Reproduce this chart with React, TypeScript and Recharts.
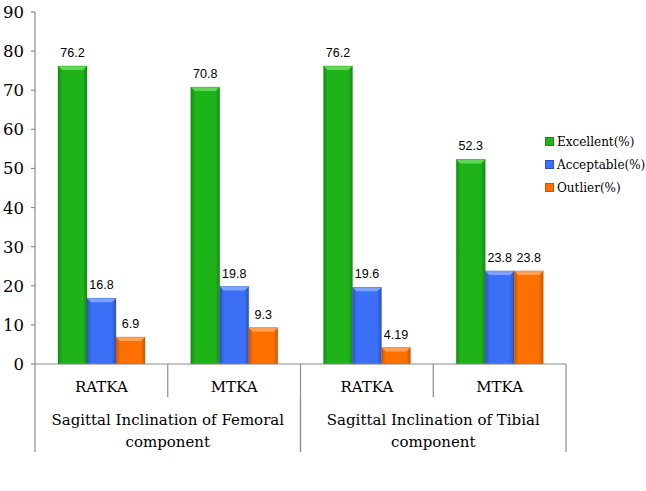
import React from 'react';
import { BarChart, Bar, XAxis, YAxis, LabelList } from 'recharts';

const categories = ['RATKA', 'MTKA', 'RATKA', 'MTKA'];
const groups = [
  'Sagittal Inclination of Femoral component',
  'Sagittal Inclination of Femoral component',
  'Sagittal Inclination of Tibial component',
  'Sagittal Inclination of Tibial component',
];
const groupLines: Record<string, string[]> = {
  'Sagittal Inclination of Femoral component': ['Sagittal Inclination of Femoral', 'component'],
  'Sagittal Inclination of Tibial component': ['Sagittal Inclination of Tibial', 'component'],
};
const excellent = [76.2, 70.8, 76.2, 52.3];
const acceptable = [16.8, 19.8, 19.6, 23.8];
const outlier = [6.9, 9.3, 4.19, 23.8];
const yTicks = [0, 10, 20, 30, 40, 50, 60, 70, 80, 90];
const seriesNames = ['Excellent(%)', 'Acceptable(%)', 'Outlier(%)'];

const data = categories.map((c, i) => ({
  cat: c,
  group: groups[i],
  key: i,
  excellent: excellent[i],
  acceptable: acceptable[i],
  outlier: outlier[i],
}));

const W = 646;
const H = 491;
const M = { top: 12, right: 80, left: 0, bottom: 14 };
const Y_W = 35;
const X1_H = 33;
const X2_H = 80;
const plotW = W - M.left - M.right - Y_W;
const band = plotW / categories.length;
const AXIS = '#8c8c8c';
const SERIF = '"DejaVu Serif", serif';
const SANS = '"Liberation Sans", Arial, sans-serif';

const colors = [
  { main: '#1fb31a', dark: '#168a12', light: '#5fd655' },
  { main: '#3b6ff5', dark: '#2a52c0', light: '#7ea3ff' },
  { main: '#ff7000', dark: '#c85500', light: '#ffa055' },
];

const makeShape = (ci: number) => (props: any) => {
  const { x, y, width, height } = props;
  if (!height || height <= 0) return null;
  const b = Math.min(4, height);
  const c = colors[ci];
  return (
    <g>
      <rect x={x} y={y} width={width} height={height} fill={`url(#grad${ci})`} />
      <polygon
        points={`${x},${y} ${x + width},${y} ${x + width - b},${y + b} ${x + b},${y + b}`}
        fill={c.light}
      />
      <rect x={x} y={y} width={width} height={height} fill="none" stroke={c.dark} strokeOpacity={0.35} strokeWidth={0.8} />
    </g>
  );
};

const CatTick = (props: any) => {
  const { x, y, payload, index } = props;
  const top = y - 8;
  const half = band / 2;
  const isLast = index === categories.length - 1;
  return (
    <g>
      <line x1={x - half} y1={top} x2={x - half} y2={top + X1_H} stroke={AXIS} strokeWidth={1.2} />
      {isLast && <line x1={x + half} y1={top} x2={x + half} y2={top + X1_H} stroke={AXIS} strokeWidth={1.2} />}
      <text x={x} y={top + 28} textAnchor="middle" fontFamily={SERIF} fontSize={15} fill="#000">
        {payload.value}
      </text>
    </g>
  );
};

const GroupTick = (props: any) => {
  const { x, y, payload } = props;
  const top = y - 8;
  const half = band;
  const lines = groupLines[payload.value] || [payload.value];
  return (
    <g>
      <line x1={x - half} y1={top} x2={x - half} y2={top + 55} stroke={AXIS} strokeWidth={1.2} />
      <line x1={x + half} y1={top} x2={x + half} y2={top + 55} stroke={AXIS} strokeWidth={1.2} />
      {lines.map((l, i) => (
        <text key={i} x={x} y={top + 28} dy={i * 22} textAnchor="middle" fontFamily={SERIF} fontSize={15} fill="#000">
          {l}
        </text>
      ))}
    </g>
  );
};

const YTick = (props: any) => {
  const { x, y, payload } = props;
  return (
    <text x={x} y={y} dy={6} textAnchor="end" fontFamily={SERIF} fontSize={16.5} fill="#000">
      {payload.value}
    </text>
  );
};

const Legend = () => (
  <div style={{ position: 'absolute', left: 545, top: 130, fontFamily: SERIF, fontSize: 12 }}>
    {seriesNames.map((n, i) => (
      <div key={n} style={{ display: 'flex', alignItems: 'center', height: 23 }}>
        <div
          style={{
            width: 9,
            height: 9,
            background: colors[i].main,
            border: `1px solid ${colors[i].dark}`,
            boxSizing: 'border-box',
            marginRight: 3,
          }}
        />
        <span>{n}</span>
      </div>
    ))}
  </div>
);

const labelStyle = { fontFamily: SANS, fontSize: 12.5, fill: '#000' };

export default function App() {
  return (
    <div style={{ position: 'absolute', left: 0, top: 0, width: W, height: H, background: '#fff' }}>
      <BarChart
        width={W}
        height={H}
        data={data}
        margin={M}
        barCategoryGap={23}
        barGap={0}
      >
        <defs>
          {colors.map((c, i) => (
            <linearGradient key={i} id={`grad${i}`} x1="0" y1="0" x2="1" y2="0">
              <stop offset="0%" stopColor={c.dark} />
              <stop offset="15%" stopColor={c.main} />
              <stop offset="85%" stopColor={c.main} />
              <stop offset="100%" stopColor={c.dark} />
            </linearGradient>
          ))}
        </defs>
        <YAxis
          width={Y_W}
          domain={[0, 90]}
          ticks={yTicks}
          interval={0}
          tickSize={4}
          tickMargin={7}
          axisLine={{ stroke: AXIS, strokeWidth: 1.2 }}
          tickLine={{ stroke: AXIS, strokeWidth: 1.2 }}
          tick={<YTick />}
        />
        <XAxis
          xAxisId={0}
          dataKey="key"
          height={X1_H}
          tickLine={false}
          axisLine={{ stroke: AXIS, strokeWidth: 1.2 }}
          interval={0}
          tick={(p: any) => <CatTick {...p} payload={{ ...p.payload, value: categories[p.payload.value] }} />}
        />
        <XAxis
          xAxisId="group"
          dataKey="group"
          allowDuplicatedCategory={false}
          height={X2_H}
          tickLine={false}
          axisLine={false}
          interval={0}
          tick={<GroupTick />}
        />
        <Bar dataKey="excellent" name={seriesNames[0]} fill={colors[0].main} shape={makeShape(0)} isAnimationActive={false}>
          <LabelList dataKey="excellent" position="top" offset={9} style={labelStyle} />
        </Bar>
        <Bar dataKey="acceptable" name={seriesNames[1]} fill={colors[1].main} shape={makeShape(1)} isAnimationActive={false}>
          <LabelList dataKey="acceptable" position="top" offset={9} style={labelStyle} />
        </Bar>
        <Bar dataKey="outlier" name={seriesNames[2]} fill={colors[2].main} shape={makeShape(2)} isAnimationActive={false}>
          <LabelList dataKey="outlier" position="top" offset={9} style={labelStyle} />
        </Bar>
      </BarChart>
      <Legend />
    </div>
  );
}
